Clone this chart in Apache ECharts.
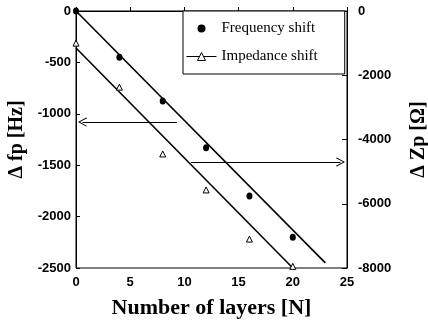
<!DOCTYPE html>
<html><head><meta charset="utf-8">
<script src="https://cdn.jsdelivr.net/npm/echarts@6/dist/echarts.min.js"></script>
<style>html,body{margin:0;padding:0;background:#fff}#c{width:428px;height:324px}</style>
</head><body><div id="c"></div>
<script>
// Data
var layers = [0, 4, 8, 12, 16, 20];
var freqShift = [0, -450, -875, -1330, -1800, -2200];          // Δfp [Hz], left axis
var impShift = [-1000, -2370, -4450, -5570, -7100, -7950];     // ΔZp [Ω], right axis
var freqFit = [[0, 0], [23, -2450]];
var impFit = [[0, -1150], [20, -8000]];
var leftArrow = [[9.3, -1080], [0.6, -1080]];
var rightArrow = [[10.6, -4700], [24.4, -4700]];
var xTicks = {min: 0, max: 25, interval: 5};
var leftTicks = {min: -2500, max: 0, interval: 500};
var rightTicks = {min: -8000, max: 0, interval: 2000};

var chevron = 'path://M0,0 L7,11 L6,12 L0,2.5 L-6,12 L-7,11 Z';
var plain = function (v) { return String(v); };
var tickFont = {color: '#000', fontFamily: 'Liberation Sans', fontWeight: 'bold', fontSize: 13, formatter: plain};
var nameFont = {color: '#000', fontFamily: 'Liberation Serif', fontWeight: 'bold', fontSize: 20};
var xNameFont = {color: '#000', fontFamily: 'Liberation Serif', fontWeight: 'bold', fontSize: 22};

function pairs(xs, ys) { return xs.map(function (x, i) { return [x, ys[i]]; }); }

var chart = echarts.init(document.getElementById('c'), null, {renderer: 'canvas'});
chart.setOption({
  animation: false,
  backgroundColor: '#fff',
  grid: {left: 76, right: 81, top: 11, bottom: 56, show: true, borderColor: '#000', borderWidth: 1,
         containLabel: false, outerBoundsMode: 'none'},
  legend: {
    orient: 'vertical', left: 183, top: 11,
    padding: [10, 27, 10, 3], itemGap: 13, itemWidth: 30, itemHeight: 10,
    backgroundColor: '#fff', borderColor: '#000', borderWidth: 1,
    textStyle: {color: '#000', fontFamily: 'Liberation Serif', fontSize: 15},
    data: [
      {name: 'Frequency shift', lineStyle: {opacity: 0}, itemStyle: {color: '#000'}},
      {name: 'Impedance shift', lineStyle: {opacity: 1, width: 1, color: '#000'}, itemStyle: {color: '#fff', borderColor: '#000', borderWidth: 1}}
    ]
  },
  xAxis: {
    type: 'value', min: xTicks.min, max: xTicks.max, interval: xTicks.interval,
    name: 'Number of layers [N]', nameLocation: 'middle', nameGap: 29, nameTextStyle: xNameFont,
    axisLine: {lineStyle: {color: '#000', width: 1}},
    axisTick: {inside: true, length: 4, lineStyle: {color: '#000'}},
    axisLabel: Object.assign({margin: 8}, tickFont),
    splitLine: {show: false}
  },
  yAxis: [{
    type: 'value', position: 'left', min: leftTicks.min, max: leftTicks.max, interval: leftTicks.interval,
    name: 'Δ fp [Hz]', nameLocation: 'middle', nameGap: 44, nameTextStyle: nameFont,
    axisLine: {show: true, lineStyle: {color: '#000', width: 1}},
    axisTick: {show: true, inside: true, length: 4, lineStyle: {color: '#000'}},
    axisLabel: Object.assign({margin: 5}, tickFont),
    splitLine: {show: false}
  }, {
    type: 'value', position: 'right', min: rightTicks.min, max: rightTicks.max, interval: rightTicks.interval,
    name: 'Δ Zp [Ω]', nameLocation: 'middle', nameGap: 62, nameRotate: 90, nameTextStyle: nameFont,
    axisLine: {show: true, lineStyle: {color: '#000', width: 1}},
    axisTick: {show: true, inside: true, length: 5, lineStyle: {color: '#000'}},
    axisLabel: Object.assign({margin: 11}, tickFont),
    splitLine: {show: false}
  }],
  series: [{
    name: 'freqFit', type: 'line', yAxisIndex: 0, data: freqFit, symbol: 'none',
    lineStyle: {color: '#000', width: 1.6}, silent: true, z: 2,
    markLine: {
      silent: true, symbol: ['none', chevron], symbolSize: [9, 9],
      lineStyle: {color: '#000', width: 1.2, type: 'solid'}, label: {show: false},
      data: [[{coord: leftArrow[0]}, {coord: leftArrow[1]}]]
    }
  }, {
    name: 'impFit', type: 'line', yAxisIndex: 1, data: impFit, symbol: 'none',
    lineStyle: {color: '#000', width: 1.6}, silent: true, z: 2,
    markLine: {
      silent: true, symbol: ['none', chevron], symbolSize: [9, 9],
      lineStyle: {color: '#000', width: 1.2, type: 'solid'}, label: {show: false},
      data: [[{coord: rightArrow[0]}, {coord: rightArrow[1]}]]
    }
  }, {
    name: 'Frequency shift', type: 'line', yAxisIndex: 0, data: pairs(layers, freqShift),
    symbol: 'circle', symbolSize: [6, 7], lineStyle: {opacity: 0, width: 0},
    itemStyle: {color: '#000'}, z: 3
  }, {
    name: 'Impedance shift', type: 'line', yAxisIndex: 1, data: pairs(layers, impShift),
    symbol: 'triangle', symbolSize: 6, lineStyle: {opacity: 0, width: 0, color: '#000'},
    itemStyle: {color: '#fff', borderColor: '#000', borderWidth: 1}, z: 3
  }]
});
</script>
</body></html>
